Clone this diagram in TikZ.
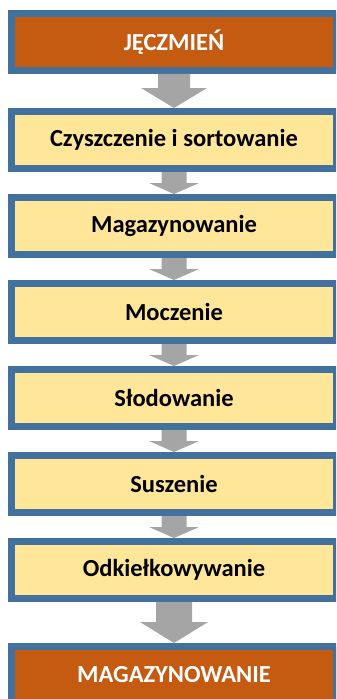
\documentclass[tikz,border=0pt]{standalone}
\usepackage{fontspec}
\setmainfont{Carlito}
\usetikzlibrary{positioning,calc}
\definecolor{frameblue}{HTML}{41719C}
\definecolor{stageyellow}{HTML}{FFE699}
\definecolor{endorange}{HTML}{C55A11}
\definecolor{arrowgray}{HTML}{A5A5A5}

\begin{document}
\begin{tikzpicture}[x=1bp,y=1bp,node distance=22bp,
  stage/.style={draw=frameblue,line width=7bp,fill=stageyellow,
    minimum width=325bp,minimum height=57bp,inner sep=0pt,
    font=\fontsize{24.5bp}{29bp}\selectfont\bfseries},
  endstage/.style={stage,fill=endorange,text=white}]
  \useasboundingbox (0,0) rectangle (336,-699);
  \clip (0,0) rectangle (336,-699);
  \node[endstage] (jeczmien) at (174,-42) {JĘCZMIEŃ};
  \node[stage,below=34bp of jeczmien] (czyszczenie) {Czyszczenie i sortowanie};
  \node[stage,below=of czyszczenie] (magazyn) {Magazynowanie};
  \node[stage,below=of magazyn] (moczenie) {Moczenie};
  \node[stage,below=of moczenie] (slodowanie) {Słodowanie};
  \node[stage,below=of slodowanie] (suszenie) {Suszenie};
  \node[stage,below=of suszenie] (odkielk) {Odkiełkowywanie};
  \node[endstage,below=41bp of odkielk] (magazynend) {MAGAZYNOWANIE};
  % grey block arrows between the stages
  \foreach \a/\b/\s/\h/\l in {jeczmien/czyszczenie/16/33/20,
      czyszczenie/magazyn/12.5/25/11, magazyn/moczenie/12.5/25/11,
      moczenie/slodowanie/12.5/25/11, slodowanie/suszenie/12.5/25/11,
      suszenie/odkielk/12.5/25/11, odkielk/magazynend/18/34/21}
    \fill[arrowgray] ($(\a.south)+(-\s,0)$) -- ($(\b.north)+(-\s,\l)$)
      -- ($(\b.north)+(-\h,\l)$) -- (\b.north) -- ($(\b.north)+(\h,\l)$)
      -- ($(\b.north)+(\s,\l)$) -- ($(\a.south)+(\s,0)$) -- cycle;
\end{tikzpicture}
\end{document}
